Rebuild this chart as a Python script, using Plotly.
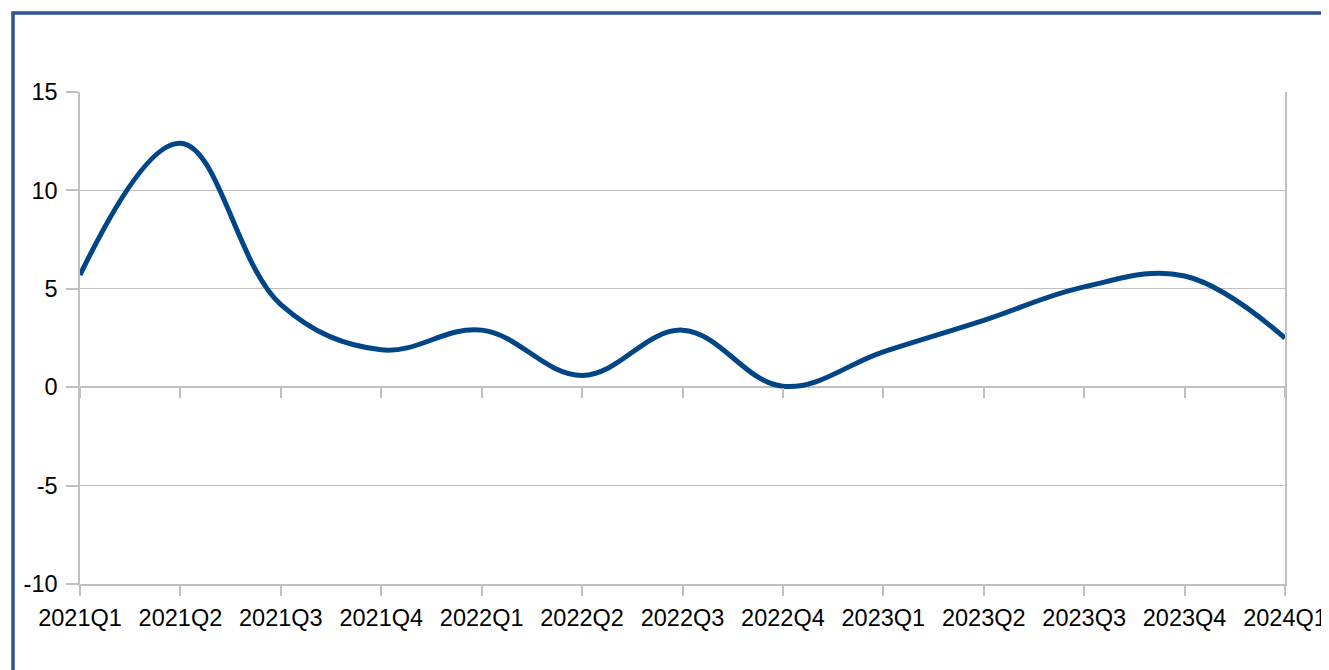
"""Quarterly series line chart, LibreOffice-style look."""
import plotly.graph_objects as go

# ── data ─────────────────────────────────────────────────────────────
quarters = [
    "2021Q1", "2021Q2", "2021Q3", "2021Q4",
    "2022Q1", "2022Q2", "2022Q3", "2022Q4",
    "2023Q1", "2023Q2", "2023Q3", "2023Q4",
    "2024Q1",
]
values = [5.7, 12.4, 4.2, 1.9, 2.9, 0.6, 2.9, 0.05, 1.8, 3.4, 5.1, 5.65, 2.5]
y_ticks = [-10, -5, 0, 5, 10, 15]
y_labels = ["-10", "-5", "0", "5", "10", "15"]

LINE_BLUE = "#004586"
GRID = "#c0c0c0"
FRAME = "#2f5193"

# page body has an 8px margin, so the figure is shrunk to compensate
fig = go.Figure()
fig.add_trace(go.Scatter(
    x=quarters, y=values, mode="lines",
    line=dict(color=LINE_BLUE, width=5, shape="spline", smoothing=1.1),
    showlegend=False, hoverinfo="skip",
))

fig.update_layout(
    width=1321, height=662,
    paper_bgcolor="white", plot_bgcolor="white",
    font=dict(family="Liberation Sans, Arial, sans-serif", size=23.5, color="black"),
    margin=dict(l=72, r=44, t=84, b=86, autoexpand=False),
    xaxis=dict(
        type="category", range=[0, len(quarters) - 1], automargin=False,
        showgrid=False, showline=True, linecolor=GRID, linewidth=1.5,
        ticks="outside", ticklen=10, tickcolor=GRID, tickwidth=1.5,
        ticklabelstandoff=2,
    ),
    xaxis2=dict(
        type="category", range=[0, len(quarters) - 1], automargin=False,
        overlaying="x", anchor="free", position=0.4,
        categoryarray=quarters, categoryorder="array",
        showgrid=False, showline=False, showticklabels=False,
        ticks="outside", ticklen=10, tickcolor=GRID, tickwidth=1.5,
    ),
    yaxis=dict(
        range=[-10, 15], tickvals=y_ticks, ticktext=y_labels, automargin=False,
        showgrid=True, gridcolor=GRID, gridwidth=1.2,
        zeroline=True, zerolinecolor=GRID, zerolinewidth=1.5,
        showline=True, linecolor=GRID, linewidth=1.5, mirror=True,
        ticks="outside", ticklen=12, tickcolor=GRID, tickwidth=1.5,
        ticklabelstandoff=4,
    ),
    shapes=[dict(
        type="rect", xref="paper", yref="paper",
        x0=-0.0556, x1=1.2, y0=-0.4, y1=1.1606,
        line=dict(color=FRAME, width=3.5), layer="below",
    )],
)

# invisible trace so the zero-line tick axis is drawn
fig.add_trace(go.Scatter(
    x=quarters, y=values, xaxis="x2", mode="lines",
    line=dict(width=0), showlegend=False, hoverinfo="skip", opacity=0,
))

fig.write_html("out.html")
